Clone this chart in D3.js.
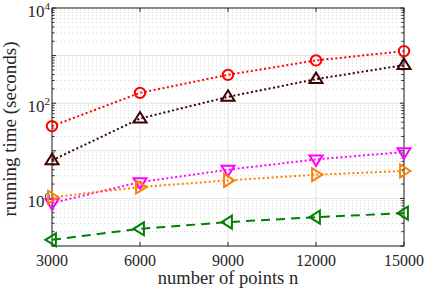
<!DOCTYPE html>
<html>
<head>
<meta charset="utf-8">
<script src="https://cdn.jsdelivr.net/npm/d3@7"></script>
<style>
  body { margin: 0; background: #fff; }
  text { font-family: 'Liberation Serif', 'DejaVu Serif', serif; fill: #262626; }
</style>
</head>
<body>
<svg id="chart" width="425" height="289"></svg>
<script>
'use strict';

var nPoints = [3000, 6000, 9000, 12000, 15000];
var xTicks = [3000, 6000, 9000, 12000, 15000];
var yDecades = [-1, 0, 1, 2, 3];
var yLabelExps = [0, 2, 4];

var redCircle = [33, 165, 394, 792, 1244];
var brownUp = [6.3, 47.6, 136, 320, 631];
var magentaDown = [0.80, 2.2, 4.0, 6.6, 9.4];
var orangeRight = [1.06, 1.73, 2.39, 3.15, 3.76];
var greenLeft = [0.135, 0.23, 0.317, 0.404, 0.49];

var series = [
  { values: redCircle, color: '#ff0000', dash: '2,2.5', marker: 'circle' },
  { values: brownUp, color: '#3d0000', dash: '2,2.5', marker: 'up' },
  { values: magentaDown, color: '#ff00ff', dash: '2,2.5', marker: 'down' },
  { values: orangeRight, color: '#ff8000', dash: '2,2.5', marker: 'right' },
  { values: greenLeft, color: '#008000', dash: '9,6', marker: 'left' }
];

var margin = { left: 52, top: 8, right: 21, bottom: 43 };
var width = 425 - margin.left - margin.right;
var height = 289 - margin.top - margin.bottom;

var svg = d3.select('#chart');
var g = svg.append('g').attr('transform', 'translate(' + margin.left + ',' + margin.top + ')');

var x = d3.scaleLinear().domain([3000, 15000]).range([0, width]);
var y = d3.scaleLog().domain([0.1, 1e4]).range([height, 0]);

// minor grid (dotted)
var minors = [];
yDecades.forEach(function (e) {
  for (var k = 2; k <= 9; k++) minors.push(k * Math.pow(10, e));
});
g.append('g').selectAll('line').data(minors).enter().append('line')
  .attr('x1', 0).attr('x2', width)
  .attr('y1', function (d) { return y(d); }).attr('y2', function (d) { return y(d); })
  .attr('stroke', '#d4d4d4').attr('stroke-width', 1).attr('stroke-dasharray', '1,3');

// major grid
var majors = yDecades.concat([4]).map(function (e) { return Math.pow(10, e); });
g.append('g').selectAll('line').data(majors).enter().append('line')
  .attr('x1', 0).attr('x2', width)
  .attr('y1', function (d) { return y(d); }).attr('y2', function (d) { return y(d); })
  .attr('stroke', '#e3e3e3').attr('stroke-width', 1);
g.append('g').selectAll('line').data(xTicks).enter().append('line')
  .attr('y1', 0).attr('y2', height)
  .attr('x1', function (d) { return x(d); }).attr('x2', function (d) { return x(d); })
  .attr('stroke', '#e3e3e3').attr('stroke-width', 1);

// box + inward ticks
var axisColor = '#262626';
g.append('rect').attr('width', width).attr('height', height)
  .attr('fill', 'none').attr('stroke', axisColor).attr('stroke-width', 1);

var tickG = g.append('g').attr('stroke', axisColor).attr('stroke-width', 1);
xTicks.forEach(function (d) {
  tickG.append('line').attr('x1', x(d)).attr('x2', x(d)).attr('y1', height).attr('y2', height - 4);
  tickG.append('line').attr('x1', x(d)).attr('x2', x(d)).attr('y1', 0).attr('y2', 4);
});
majors.forEach(function (d) {
  tickG.append('line').attr('x1', 0).attr('x2', 4).attr('y1', y(d)).attr('y2', y(d));
  tickG.append('line').attr('x1', width).attr('x2', width - 4).attr('y1', y(d)).attr('y2', y(d));
});
minors.forEach(function (d) {
  tickG.append('line').attr('x1', 0).attr('x2', 2.5).attr('y1', y(d)).attr('y2', y(d));
  tickG.append('line').attr('x1', width).attr('x2', width - 2.5).attr('y1', y(d)).attr('y2', y(d));
});

// tick labels
g.append('g').selectAll('text').data(xTicks).enter().append('text')
  .attr('x', function (d) { return x(d); }).attr('y', height + 20)
  .attr('text-anchor', 'middle').style('font-size', '16px')
  .text(function (d) { return d; });

var yl = g.append('g').selectAll('text').data(yLabelExps).enter().append('text')
  .attr('x', -2).attr('y', function (d) { return y(Math.pow(10, d)) + 9; })
  .attr('text-anchor', 'end').style('font-size', '17px');
yl.append('tspan').text('10');
yl.append('tspan').attr('dy', -7).style('font-size', '11px').text(function (d) { return d; });

// lines
var line = d3.line()
  .x(function (d, i) { return x(nPoints[i]); })
  .y(function (d) { return y(d); });

series.forEach(function (s) {
  g.append('path').datum(s.values)
    .attr('d', line).attr('fill', 'none')
    .attr('stroke', s.color).attr('stroke-width', 2)
    .attr('stroke-dasharray', s.dash);
});

// markers
function markerPath(type) {
  var r = 6.5;
  if (type === 'up') return 'M0,' + (-r) + 'L' + r + ',' + (r * 0.6) + 'L' + (-r) + ',' + (r * 0.6) + 'Z';
  if (type === 'down') return 'M0,' + r + 'L' + r + ',' + (-r * 0.6) + 'L' + (-r) + ',' + (-r * 0.6) + 'Z';
  if (type === 'right') return 'M' + r + ',0L' + (-r * 0.6) + ',' + r + 'L' + (-r * 0.6) + ',' + (-r) + 'Z';
  if (type === 'left') return 'M' + (-r) + ',0L' + (r * 0.6) + ',' + r + 'L' + (r * 0.6) + ',' + (-r) + 'Z';
  return null;
}

series.forEach(function (s) {
  var mg = g.append('g');
  s.values.forEach(function (v, i) {
    var cx = x(nPoints[i]), cy = y(v);
    if (s.marker === 'circle') {
      mg.append('circle').attr('cx', cx).attr('cy', cy).attr('r', 5.2)
        .attr('fill', 'none').attr('stroke', s.color).attr('stroke-width', 2);
    } else {
      mg.append('path').attr('d', markerPath(s.marker))
        .attr('transform', 'translate(' + cx + ',' + cy + ')')
        .attr('fill', 'none').attr('stroke', s.color).attr('stroke-width', 2)
        .attr('stroke-linejoin', 'miter');
    }
  });
});

// axis labels
svg.append('text')
  .attr('x', margin.left + width / 2).attr('y', 284)
  .attr('text-anchor', 'middle').style('font-size', '18.5px')
  .text('number of points n');

svg.append('text')
  .attr('transform', 'translate(16,' + (margin.top + height / 2 + 2) + ') rotate(-90)')
  .attr('text-anchor', 'middle').style('font-size', '19px')
  .text('running time (seconds)');
</script>
</body>
</html>
